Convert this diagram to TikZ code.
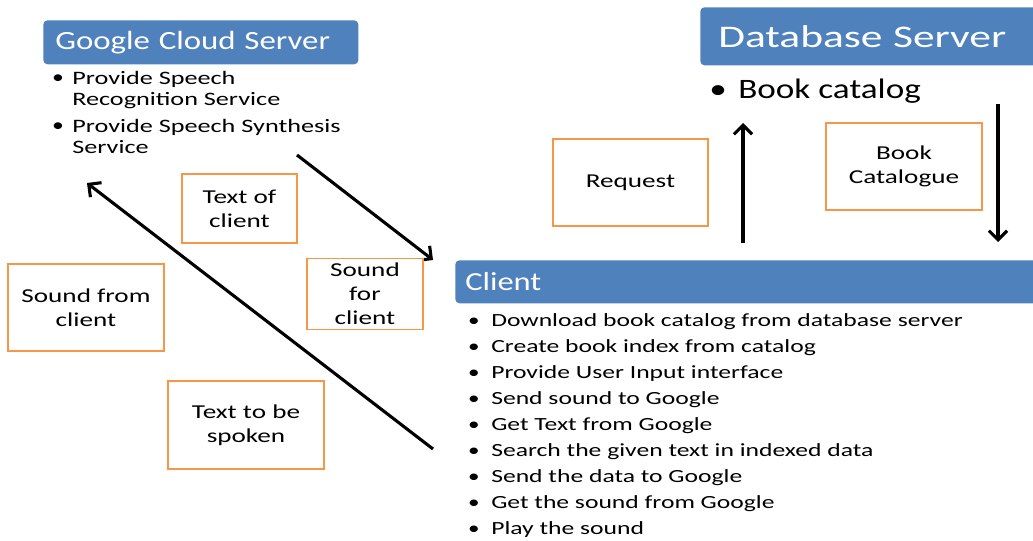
\documentclass[tikz,border=0pt]{standalone}
\usepackage{fontspec}
\setmainfont[FakeStretch=1.25]{Carlito}
\newfontfamily\widefont[FakeStretch=1.38]{Carlito}
\usetikzlibrary{arrows.meta}
\definecolor{headerblue}{RGB}{79,129,189}
\definecolor{boxorange}{RGB}{247,150,70}

\begin{document}
\begin{tikzpicture}[x=0.025cm,y=-0.025cm,
  header/.style={fill=headerblue, rounded corners=3pt, text=white, anchor=north west, align=left, inner ysep=0pt},
  tagbox/.style={draw=boxorange, line width=1.4pt, fill=white, align=center, font=\widefont\fontsize{14}{17}\selectfont},
  item/.style={anchor=base west, inner sep=0pt, align=left},
  flow/.style={line width=2.2pt, -{Straight Barb[length=6.5pt,width=13pt]}}]
\useasboundingbox (0,0) rectangle (1033,540);

% Server and client headers
\node[header, text width=7.275cm, inner xsep=0.3cm, minimum height=1.1cm, font=\fontsize{18.7}{20}\selectfont] (gcs) at (43,20) {Google Cloud Server};
\node[header, text width=8.05cm, inner xsep=0.45cm, minimum height=1.45cm, font=\widefont\fontsize{22.4}{25}\selectfont] (dbs) at (700,7) {Database Server};
\node[header, text width=14.25cm, inner xsep=0.25cm, minimum height=1.075cm, font=\fontsize{18.5}{20}\selectfont] (client) at (455,260) {Client};

% Google services
\node[item, anchor=north west, font=\widefont\fontsize{13.5}{15}\selectfont] (gs1) at (72,71) {Provide Speech\\Recognition Service};
\node[item, anchor=north west, font=\widefont\fontsize{13.5}{15}\selectfont] (gs2) at (72,119) {Provide Speech Synthesis\\Service};
\node[anchor=base, inner sep=0pt, font=\fontsize{13.5}{15}\selectfont] (gd1) at (58,83) {\textbullet};
\node[anchor=base, inner sep=0pt, font=\fontsize{13.5}{15}\selectfont] (gd2) at (58,131) {\textbullet};

% Database content
\node[item, font=\fontsize{20}{22}\selectfont] (db1) at (738,98) {Book catalog};
\node[anchor=base, inner sep=0pt, font=\fontsize{20}{22}\selectfont] (dd1) at (718,98) {\textbullet};

% Client tasks
\foreach \t [count=\i] in {Download book catalog from database server, Create book index from catalog,
  Provide User Input interface, Send sound to Google, Get Text from Google,
  Search the given text in indexed data, Send the data to Google,
  Get the sound from Google, Play the sound} {
    \node[item, font=\widefont\fontsize{13.2}{15}\selectfont] (cl\i) at (491,300+26*\i) {\t};
    \node[anchor=base, inner sep=0pt, font=\fontsize{13.2}{15}\selectfont] (cd\i) at (474,300+26*\i) {\textbullet};
}

% Arrow ends
\coordinate (a1s) at (297,155);
\coordinate (a1e) at (433,260);
\coordinate (a2s) at (433,449);
\coordinate (a2e) at (87,183);
\coordinate (a3s) at (743,243);
\coordinate (a3e) at (743,123);
\coordinate (a4s) at (998,104);
\coordinate (a4e) at (998,242);

\draw[flow] (a1s) -- (a1e);
\draw[flow] (a2s) -- (a2e);
\draw[flow] (a3s) -- (a3e);
\draw[flow] (a4s) -- (a4e);

% Message labels
\node[tagbox, minimum width=2.875cm, minimum height=1.725cm] (txtcl) at (239.5,208.5) {Text of\\client};
\node[tagbox, minimum width=2.9cm, minimum height=1.75cm] (sndfor) at (365,294) {Sound\\for\\client};
\node[tagbox, minimum width=3.9cm, minimum height=2.175cm] (sndfrom) at (86,307.5) {Sound from\\client};
\node[tagbox, minimum width=3.9cm, minimum height=2.2cm] (txtspk) at (246,425) {Text to be\\spoken};
\node[tagbox, minimum width=3.875cm, minimum height=2.175cm] (req) at (630.5,182.5) {Request};
\node[tagbox, minimum width=3.9cm, minimum height=2.175cm] (bcat) at (904,166.5) {Book\\Catalogue};

\end{tikzpicture}
\end{document}
